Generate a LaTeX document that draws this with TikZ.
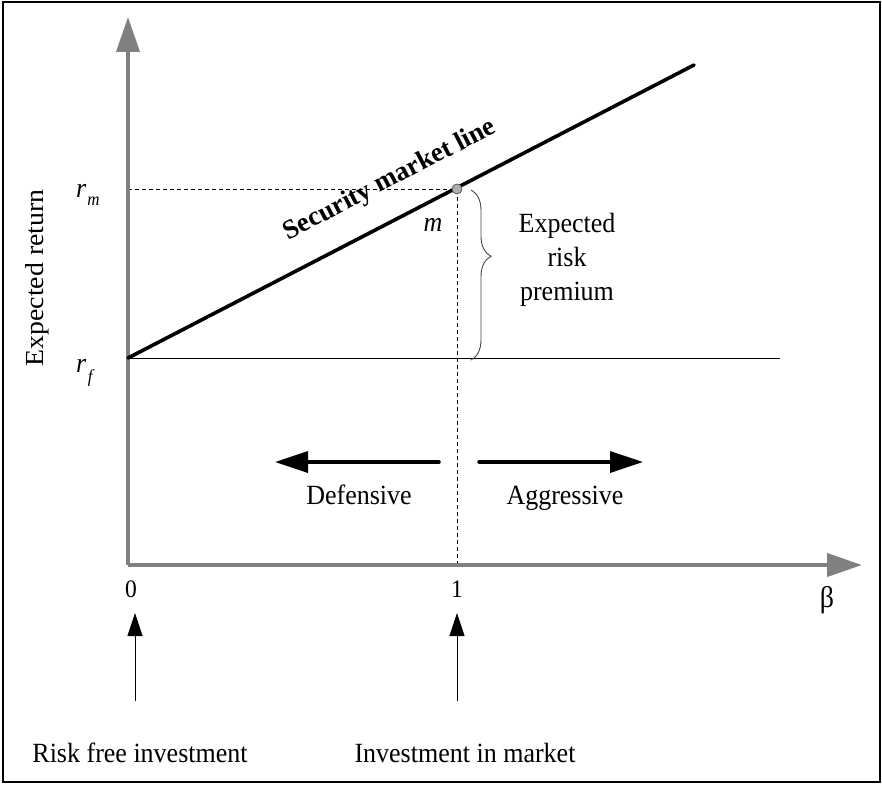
\documentclass[tikz,border=0pt]{standalone}
\usepackage{fontspec}
\setmainfont{Liberation Serif}
\usetikzlibrary{arrows.meta,decorations.pathreplacing}
\definecolor{axisgray}{RGB}{128,128,128}
\definecolor{dotfill}{RGB}{175,175,175}
\definecolor{dotdraw}{RGB}{90,90,90}
\definecolor{bracecol}{RGB}{70,70,70}
\newcommand{\vstr}[1]{\scalebox{1}[1.07]{#1}}
\newcommand{\hstr}[1]{\scalebox{1.07}[1]{#1}}
\begin{document}
\begin{tikzpicture}[x=1pt,y=-1pt,
  axis/.style={draw=axisgray, line width=4pt, -{Triangle[length=35pt,width=23pt]}},
  smlline/.style={line width=3.6pt, line cap=round},
  thinline/.style={line width=0.9pt},
  dashline/.style={line width=0.8pt, dash pattern=on 4pt off 3pt},
  dirarrow/.style={line width=3.5pt, line cap=round, -{Triangle[length=33pt,width=21pt]}},
  uparrow/.style={line width=0.8pt, -{Triangle[length=23pt,width=15pt]}},
  lbl/.style={inner sep=0pt, font=\fontsize{26}{31}\selectfont},
  numlbl/.style={inner sep=0pt, font=\fontsize{23.5}{27}\selectfont},
  dot/.style={circle, draw=dotdraw, fill=dotfill, line width=0.8pt, minimum size=10pt, inner sep=0pt}
]
\useasboundingbox (0,0) rectangle (882,784);
\draw[line width=1.2pt] (3,2) rectangle (880,782);

% coordinates
\coordinate (O) at (128,565);
\coordinate (Ytip) at (128,17);
\coordinate (Xtip) at (862,565);
\coordinate (rf) at (128,358);
\coordinate (rfEnd) at (780,358);
\coordinate (smlEnd) at (694,65);
\coordinate (rmY) at (128,189);
\coordinate (oneX) at (457,565);

% risk-free horizontal line
\draw[thinline] (rf) -- (rfEnd);
% dashed guides
\draw[dashline] (rmY) -- (457,189);
\draw[dashline] (oneX) -- (457,189);
% axes
\draw[axis] (O) -- (Ytip);
\draw[axis] (O) -- (Xtip);
% security market line
\draw[smlline] (rf) -- (smlEnd);
\node[dot] (mpt) at (457,189) {};

% brace
\draw[bracecol, line width=0.9pt, decorate, decoration={brace, amplitude=20pt, aspect=0.39}] (471,190) -- (471,360);

% labels
\node[lbl, rotate=90] (ylab) at (37,278) {\hstr{Expected return}};
\node[lbl, anchor=base west] (rmlab) at (76,197) {\vstr{\itshape r\raisebox{-8pt}{\fontsize{17}{17}\selectfont\kern1pt m}}};
\node[lbl, anchor=base west] (rflab) at (76,372) {\vstr{\itshape r\raisebox{-10pt}{\fontsize{17}{17}\selectfont\kern1.5pt f}}};
\node[lbl, anchor=base, rotate=27.4, font=\fontsize{27}{31}\selectfont\bfseries] (smllab) at (393,186) {Security market line};
\node[lbl, anchor=base, font=\fontsize{26}{31}\selectfont\itshape] (mlab) at (433,231) {\vstr{m}};
\node[lbl, anchor=base] (erp1) at (567,232) {\vstr{Expected}};
\node[lbl, anchor=base] (erp2) at (567,266) {\vstr{risk}};
\node[lbl, anchor=base] (erp3) at (567,300) {\vstr{premium}};

% defensive / aggressive
\coordinate (dS) at (439,462);
\coordinate (dE) at (275,462);
\coordinate (aS) at (479,462);
\coordinate (aE) at (643,462);
\draw[dirarrow] (dS) -- (dE);
\draw[dirarrow] (aS) -- (aE);
\node[lbl, anchor=base] (deflab) at (359,504) {\vstr{Defensive}};
\node[lbl, anchor=base] (agglab) at (565,504) {\vstr{Aggressive}};

% axis numbers
\node[numlbl, anchor=base] (zero) at (131,597) {\vstr{0}};
\node[numlbl, anchor=base] (one) at (457,597) {\vstr{1}};
\node[numlbl, anchor=base, font=\fontsize{28}{32}\selectfont] (beta) at (827,607) {\vstr{β}};

% bottom arrows
\coordinate (b0) at (135,701);
\coordinate (b0t) at (135,613);
\coordinate (b1) at (457,701);
\coordinate (b1t) at (457,613);
\draw[uparrow] (b0) -- (b0t);
\draw[uparrow] (b1) -- (b1t);
\node[lbl, anchor=base] (rfi) at (140,762) {\vstr{Risk free investment}};
\node[lbl, anchor=base] (iim) at (465,762) {\vstr{Investment in market}};
\end{tikzpicture}
\end{document}
